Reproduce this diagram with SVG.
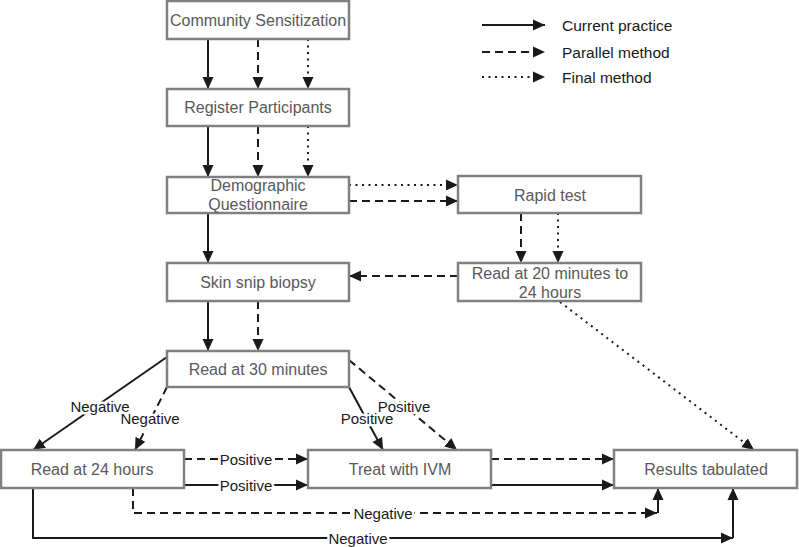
<svg xmlns="http://www.w3.org/2000/svg" width="799" height="547" viewBox="0 0 799 547">
<style>
.box{fill:#fff;stroke:#808080;stroke-width:2.5}
.nt{font-family:"Liberation Sans",Arial,sans-serif;font-size:16px;fill:#595959;text-anchor:middle;dominant-baseline:central}
.lt{font-family:"Liberation Sans",Arial,sans-serif;font-size:15.5px;fill:#1a1a1a;dominant-baseline:central}
.el{font-family:"Liberation Sans",Arial,sans-serif;font-size:15px;fill:#1a1a1a;text-anchor:middle;dominant-baseline:central;stroke:#fff;stroke-width:5;paint-order:stroke;stroke-linejoin:round}
.c{fill:none;stroke:#1a1a1a;stroke-width:2;marker-end:url(#ah)}
.s{}
.d{stroke-dasharray:8 5}
.o{stroke-dasharray:2 4.5}
</style>
<defs>
<marker id="ah" markerUnits="userSpaceOnUse" markerWidth="13" markerHeight="13" refX="12" refY="6.5" orient="auto">
<path d="M0,1 L12,6.5 L0,12 z" fill="#1a1a1a"/>
</marker>
</defs>
<g id="legend">
<line class="c s" x1="482" y1="25" x2="545" y2="25"/>
<line class="c d" x1="482" y1="52" x2="545" y2="52"/>
<line class="c o" x1="482" y1="77" x2="545" y2="77"/>
<text class="lt" x="562" y="25">Current practice</text>
<text class="lt" x="562" y="52">Parallel method</text>
<text class="lt" x="562" y="77">Final method</text>
</g>
<g id="connectors">
<line class="c s" x1="208" y1="39" x2="208" y2="89"/>
<line class="c d" x1="258" y1="39" x2="258" y2="89"/>
<line class="c o" x1="308" y1="39" x2="308" y2="89"/>
<line class="c s" x1="208" y1="126" x2="208" y2="177"/>
<line class="c d" x1="258" y1="126" x2="258" y2="177"/>
<line class="c o" x1="308" y1="126" x2="308" y2="177"/>
<line class="c o" x1="349" y1="185" x2="458" y2="185"/>
<line class="c d" x1="349" y1="201" x2="458" y2="201"/>
<line class="c s" x1="208" y1="213" x2="208" y2="263"/>
<line class="c d" x1="521" y1="213" x2="521" y2="263"/>
<line class="c o" x1="558" y1="213" x2="558" y2="263"/>
<line class="c d" x1="458" y1="276" x2="349" y2="276"/>
<line class="c s" x1="208" y1="301" x2="208" y2="351"/>
<line class="c d" x1="258" y1="301" x2="258" y2="351"/>
<line class="c o" x1="560" y1="302" x2="754" y2="450"/>
<line class="c s" x1="167" y1="357" x2="33" y2="450"/>
<line class="c d" x1="167" y1="387" x2="135" y2="450"/>
<line class="c s" x1="349" y1="387" x2="383" y2="450"/>
<line class="c d" x1="349" y1="360" x2="457" y2="450"/>
<line class="c d" x1="184" y1="459" x2="308" y2="459"/>
<line class="c s" x1="184" y1="485" x2="308" y2="485"/>
<line class="c d" x1="491" y1="459" x2="614" y2="459"/>
<line class="c s" x1="491" y1="485" x2="614" y2="485"/>
<polyline class="c d" points="133,488 133,513 657,513"/>
<line class="c s" x1="658" y1="513" x2="658" y2="488"/>
<polyline class="c s" points="33,488 33,538 733,538"/>
<line class="c s" x1="733" y1="538" x2="733" y2="488"/>
<text class="el" x="100" y="406">Negative</text>
<text class="el" x="150" y="418">Negative</text>
<text class="el" x="367" y="418">Positive</text>
<text class="el" x="404" y="406">Positive</text>
<text class="el" x="246" y="459">Positive</text>
<text class="el" x="246" y="485">Positive</text>
<text class="el" x="383" y="513">Negative</text>
<text class="el" x="358" y="538">Negative</text>
</g>
<g id="community"><rect class="box" x="167" y="1" width="182" height="38"/><text class="nt" x="258" y="20">Community Sensitization</text></g>
<g id="register"><rect class="box" x="167" y="89" width="182" height="37"/><text class="nt" x="258" y="107">Register Participants</text></g>
<g id="demographic"><rect class="box" x="167" y="177" width="182" height="36"/><text class="nt" x="258" y="185">Demographic</text><text class="nt" x="258" y="204">Questionnaire</text></g>
<g id="rapid"><rect class="box" x="458" y="176" width="183" height="37"/><text class="nt" x="550" y="195">Rapid test</text></g>
<g id="skin"><rect class="box" x="167" y="263" width="182" height="38"/><text class="nt" x="258" y="282">Skin snip biopsy</text></g>
<g id="read20"><rect class="box" x="458" y="263" width="183" height="38"/><text class="nt" x="550" y="273">Read at 20 minutes to</text><text class="nt" x="550" y="292">24 hours</text></g>
<g id="read30"><rect class="box" x="167" y="351" width="182" height="36"/><text class="nt" x="258" y="369">Read at 30 minutes</text></g>
<g id="read24"><rect class="box" x="1" y="450" width="183" height="38"/><text class="nt" x="92" y="469">Read at 24 hours</text></g>
<g id="treat"><rect class="box" x="308" y="450" width="183" height="38"/><text class="nt" x="400" y="469">Treat with IVM</text></g>
<g id="results"><rect class="box" x="614" y="450" width="183" height="38"/><text class="nt" x="706" y="469">Results tabulated</text></g>
</svg>
